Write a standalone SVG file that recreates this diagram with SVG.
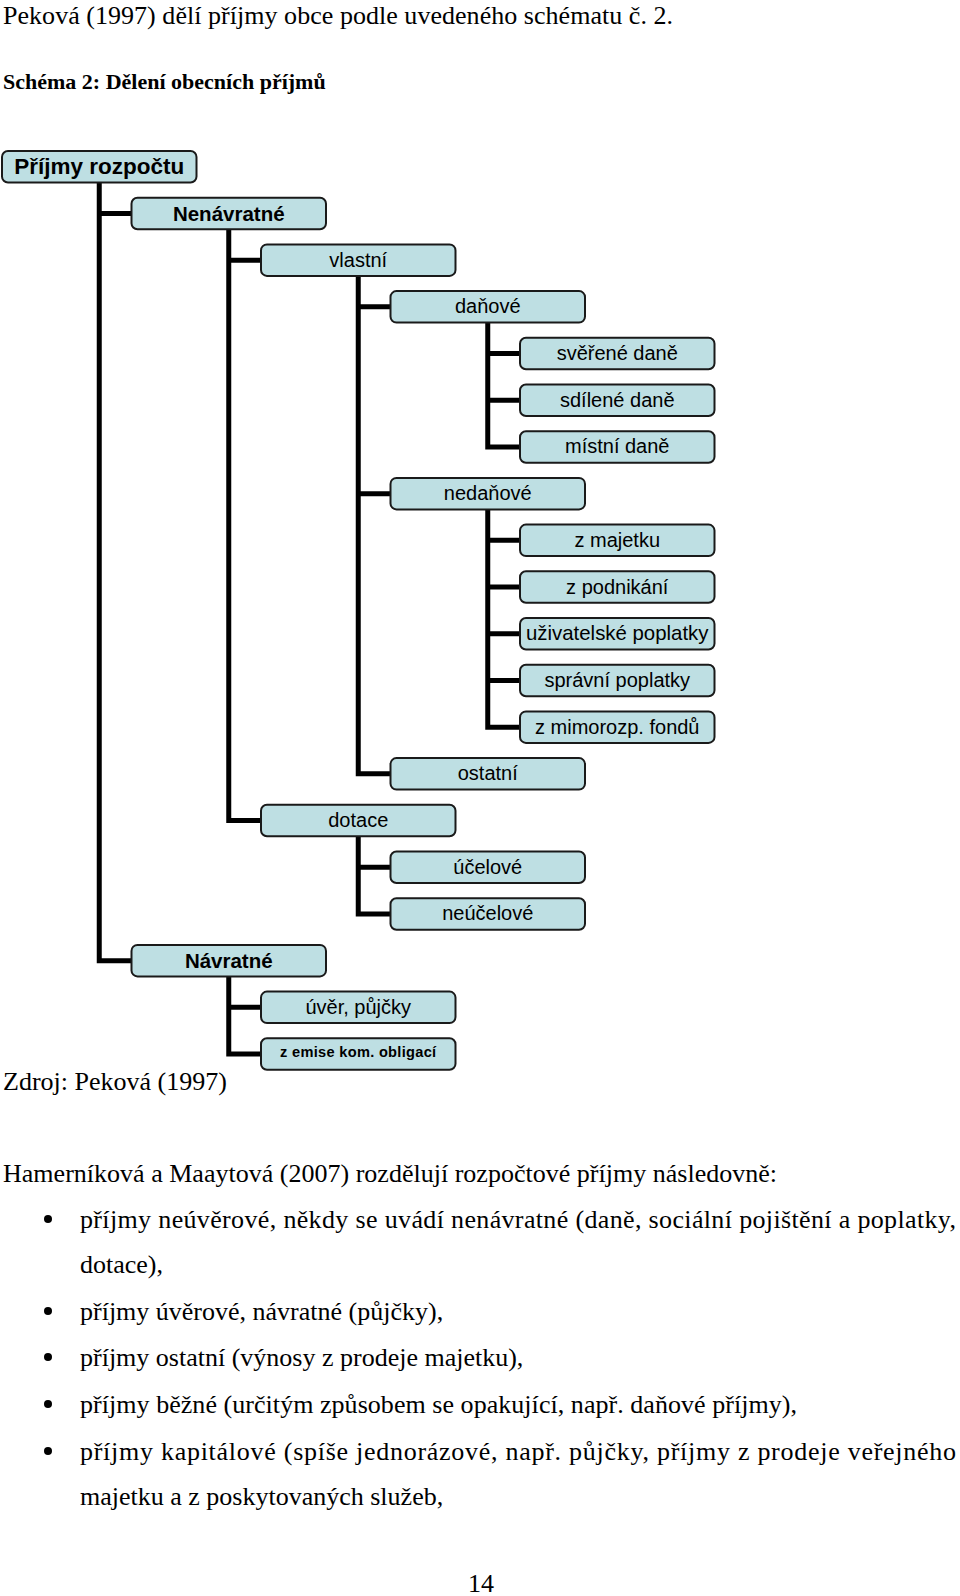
<svg xmlns="http://www.w3.org/2000/svg" width="960" height="1596" viewBox="0 0 960 1596">
<style>
.body{font-family:"Liberation Serif","Times New Roman",serif;font-size:26px;fill:#000}
.cap{font-family:"Liberation Serif","Times New Roman",serif;font-size:22px;font-weight:bold;fill:#000}
.box{fill:#BEDFE3;stroke:#1a1a1a;stroke-width:2}
.lbl{font-family:"Liberation Sans",Arial,sans-serif;font-size:20px;fill:#000;text-anchor:middle}
.b{font-weight:bold}
.conn{fill:none;stroke:#000;stroke-width:5;stroke-linejoin:miter;stroke-linecap:butt}
</style>
<rect width="960" height="1596" fill="#fff"/>
<text class="body" x="3" y="24" textLength="670" lengthAdjust="spacing">Peková (1997) dělí příjmy obce podle uvedeného schématu č. 2.</text>
<text class="cap" x="3" y="89">Schéma 2: Dělení obecních příjmů</text>

<g id="connectors">
<path class="conn" d="M99.25,182.5 V960.65 H131.5 M99.25,213.45 H131.5"/>
<path class="conn" d="M228.75,229.2 V820.55 H261 M228.75,260.15 H261"/>
<path class="conn" d="M358.25,275.9 V773.85 H390.5 M358.25,306.85 H390.5 M358.25,493.65 H390.5"/>
<path class="conn" d="M487.75,322.6 V446.95 H520 M487.75,353.55 H520 M487.75,400.25 H520"/>
<path class="conn" d="M487.75,509.4 V727.15 H520 M487.75,540.35 H520 M487.75,587.05 H520 M487.75,633.75 H520 M487.75,680.45 H520"/>
<path class="conn" d="M358.25,836.3 V913.95 H390.5 M358.25,867.25 H390.5"/>
<path class="conn" d="M228.75,976.4 V1054.05 H261 M228.75,1007.35 H261"/>
</g>

<g id="n-prijmy"><rect class="box" x="2" y="151" width="194.5" height="31.5" rx="6"/><text class="lbl b" x="99.25" y="174" style="font-size:22.5px">Příjmy rozpočtu</text></g>
<g id="n-nenavratne"><rect class="box" x="131.5" y="197.7" width="194.5" height="31.5" rx="6"/><text class="lbl b" x="228.75" y="220.7" style="font-size:20.5px">Nenávratné</text></g>
<g id="n-vlastni"><rect class="box" x="261" y="244.4" width="194.5" height="31.5" rx="6"/><text class="lbl" x="358.25" y="266.6">vlastní</text></g>
<g id="n-danove"><rect class="box" x="390.5" y="291.1" width="194.5" height="31.5" rx="6"/><text class="lbl" x="487.75" y="313.3">daňové</text></g>
<g id="n-sverene"><rect class="box" x="520" y="337.8" width="194.5" height="31.5" rx="6"/><text class="lbl" x="617.25" y="360">svěřené daně</text></g>
<g id="n-sdilene"><rect class="box" x="520" y="384.5" width="194.5" height="31.5" rx="6"/><text class="lbl" x="617.25" y="406.7">sdílené daně</text></g>
<g id="n-mistni"><rect class="box" x="520" y="431.2" width="194.5" height="31.5" rx="6"/><text class="lbl" x="617.25" y="453.4">místní daně</text></g>
<g id="n-nedanove"><rect class="box" x="390.5" y="477.9" width="194.5" height="31.5" rx="6"/><text class="lbl" x="487.75" y="500.1">nedaňové</text></g>
<g id="n-majetku"><rect class="box" x="520" y="524.6" width="194.5" height="31.5" rx="6"/><text class="lbl" x="617.25" y="546.8">z majetku</text></g>
<g id="n-podnikani"><rect class="box" x="520" y="571.3" width="194.5" height="31.5" rx="6"/><text class="lbl" x="617.25" y="593.5">z podnikání</text></g>
<g id="n-uzivatelske"><rect class="box" x="520" y="618" width="194.5" height="31.5" rx="6"/><text class="lbl" x="617.25" y="640.2" style="font-size:20.4px">uživatelské poplatky</text></g>
<g id="n-spravni"><rect class="box" x="520" y="664.7" width="194.5" height="31.5" rx="6"/><text class="lbl" x="617.25" y="686.9">správní poplatky</text></g>
<g id="n-mimorozp"><rect class="box" x="520" y="711.4" width="194.5" height="31.5" rx="6"/><text class="lbl" x="617.25" y="733.6">z mimorozp. fondů</text></g>
<g id="n-ostatni"><rect class="box" x="390.5" y="758.1" width="194.5" height="31.5" rx="6"/><text class="lbl" x="487.75" y="780.3">ostatní</text></g>
<g id="n-dotace"><rect class="box" x="261" y="804.8" width="194.5" height="31.5" rx="6"/><text class="lbl" x="358.25" y="827">dotace</text></g>
<g id="n-ucelove"><rect class="box" x="390.5" y="851.5" width="194.5" height="31.5" rx="6"/><text class="lbl" x="487.75" y="873.7">účelové</text></g>
<g id="n-neucelove"><rect class="box" x="390.5" y="898.2" width="194.5" height="31.5" rx="6"/><text class="lbl" x="487.75" y="920.4">neúčelové</text></g>
<g id="n-navratne"><rect class="box" x="131.5" y="944.9" width="194.5" height="31.5" rx="6"/><text class="lbl b" x="228.75" y="967.9" style="font-size:20.5px">Návratné</text></g>
<g id="n-uver"><rect class="box" x="261" y="991.6" width="194.5" height="31.5" rx="6"/><text class="lbl" x="358.25" y="1013.8">úvěr, půjčky</text></g>
<g id="n-emise"><rect class="box" x="261" y="1038.3" width="194.5" height="31.5" rx="6"/><text class="lbl b" x="358.25" y="1056.5" style="font-size:14.6px;letter-spacing:0.3px">z emise kom. obligací</text></g>

<text class="body" x="3" y="1090">Zdroj: Peková (1997)</text>
<text class="body" x="3" y="1182" textLength="774" lengthAdjust="spacing">Hamerníková a Maaytová (2007) rozdělují rozpočtové příjmy následovně:</text>
<g fill="#000">
<circle cx="48" cy="1219" r="4"/>
<circle cx="48" cy="1311" r="4"/>
<circle cx="48" cy="1357" r="4"/>
<circle cx="48" cy="1404" r="4"/>
<circle cx="48" cy="1451" r="4"/>
</g>
<text class="body" x="80" y="1228" textLength="876" lengthAdjust="spacing">příjmy neúvěrové, někdy se uvádí nenávratné (daně, sociální pojištění a poplatky,</text>
<text class="body" x="80" y="1273">dotace),</text>
<text class="body" x="80" y="1320">příjmy úvěrové, návratné (půjčky),</text>
<text class="body" x="80" y="1366">příjmy ostatní (výnosy z prodeje majetku),</text>
<text class="body" x="80" y="1413" textLength="717" lengthAdjust="spacing">příjmy běžné (určitým způsobem se opakující, např. daňové příjmy),</text>
<text class="body" x="80" y="1460" textLength="876" lengthAdjust="spacing">příjmy kapitálové (spíše jednorázové, např. půjčky, příjmy z prodeje veřejného</text>
<text class="body" x="80" y="1505">majetku a z poskytovaných služeb,</text>
<text class="body" x="481" y="1592" text-anchor="middle">14</text>
</svg>
